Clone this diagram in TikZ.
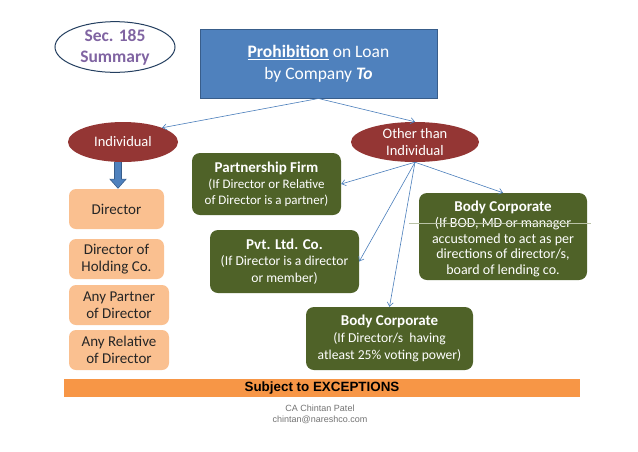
\documentclass[tikz,border=0pt]{standalone}
\usepackage{fontspec}
\setmainfont{Carlito}
\newfontfamily\arialf{Liberation Sans}
\usetikzlibrary{arrows.meta,shapes.geometric}
\definecolor{probblue}{HTML}{4F81BD}
\definecolor{probborder}{HTML}{385D8A}
\definecolor{darkred}{HTML}{943634}
\definecolor{olive}{HTML}{4F6228}
\definecolor{peach}{HTML}{FAC090}
\definecolor{orangebar}{HTML}{F79646}
\definecolor{linkblue}{HTML}{4A7EBB}
\definecolor{secpurple}{HTML}{8064A2}
\definecolor{secborder}{HTML}{243F60}
\definecolor{strikegray}{HTML}{B9C2A6}
\tikzset{
  redell/.style={ellipse, fill=darkred, draw=none, text=white, inner sep=0pt, align=center,
     font=\fontsize{14.5}{17}\selectfont},
  greenbox/.style={rectangle, rounded corners=8pt, fill=olive, draw=none, text=white, inner sep=0pt,
     align=center},
  peachbox/.style={rectangle, rounded corners=7pt, fill=peach, draw=none, text=black!85, inner sep=0pt,
     align=center, font=\fontsize{15}{17.5}\selectfont, minimum height=40pt},
  link/.style={draw=linkblue, line width=0.6pt, -{Straight Barb[length=4pt,width=6pt]}},
}
\newcommand{\hdtext}[1]{{\fontsize{15}{16}\selectfont\bfseries #1}}
\begin{document}
\begin{tikzpicture}[x=1pt,y=-1pt]
\useasboundingbox (0,0) rectangle (638,451);
\fill[white] (0,0) rectangle (638,451);
% Sec 185
\node[ellipse, draw=secborder, line width=1pt, fill=white, minimum width=120pt, minimum height=46pt,
  inner sep=0pt, text=secpurple, align=center, font=\fontsize{17.5}{21}\selectfont\bfseries]
  (sec) at (115,47) {Sec. 185\\Summary};
% Prohibition box
\node[rectangle, fill=probblue, draw=probborder, line width=1pt, minimum width=237pt, minimum height=69pt,
  inner sep=0pt, text=white, align=center, font=\fontsize{17.5}{22}\selectfont]
  (prob) at (318.5,63.5) {\underline{\textbf{Prohibition}} on Loan\\by Company \textbf{\textit{To}}};
% ellipses
\node[redell, minimum width=110pt, minimum height=40pt] (ind) at (123,142) {Individual};
\node[redell, minimum width=128pt, minimum height=40pt] (oti) at (415,142) {Other than\\Individual};
% green boxes
\node[greenbox, minimum width=149pt, minimum height=62pt, font=\fontsize{13}{16}\selectfont] (pf) at (266.5,184)
  {\hdtext{Partnership Firm}\\(If Director or Relative\\of Director is a partner)};
\node[greenbox, minimum width=168pt, minimum height=87pt, font=\fontsize{14}{15.8}\selectfont] (bcr) at (503,236.5)
  {\raisebox{-3.5pt}[\height][\depth]{\begin{tabular}{@{}c@{}}\hdtext{Body Corporate}\\(If BOD, MD or manager\\accustomed to act as per\\directions of director/s,\\board of lending co.\end{tabular}}};
\node[greenbox, minimum width=149pt, minimum height=63pt, font=\fontsize{13.6}{16.5}\selectfont] (pvt) at (284.5,261.5)
  {\hdtext{Pvt. Ltd. Co.}\\(If Director is a director\\or member)};
\node[greenbox, minimum width=167pt, minimum height=63pt, font=\fontsize{13.6}{17}\selectfont] (bcb) at (389.5,338.5)
  {\hdtext{Body Corporate}\\(If Director/s\ \ having\\atleast 25\% voting power)};
\coordinate (strA) at ([xshift=-10pt,yshift=-31pt]bcr.north west);
\coordinate (strB) at ([xshift=4pt,yshift=-31pt]bcr.north east);
\draw[color=strikegray, line width=0.7pt] (strA) -- (strB);
% peach boxes
\node[peachbox, minimum width=95pt] (dir) at (116.5,209) {Director};
\node[peachbox, minimum width=95pt] (hold) at (116.5,259) {Director of\\Holding Co.};
\node[peachbox, minimum width=100pt] (part) at (119,305) {Any Partner\\of Director};
\node[peachbox, minimum width=100pt] (rel) at (119,350) {Any Relative\\of Director};
% exceptions bar
\node[rectangle, fill=orangebar, minimum width=516pt, minimum height=18pt, inner sep=0pt,
  font=\arialf\fontsize{13.4}{14}\selectfont\bfseries, text=black] (exc) at (322,388) {Subject to EXCEPTIONS};
\node[inner sep=0pt, align=center, text=black!55, font=\arialf\fontsize{9}{11}\selectfont] (foot) at (320,414.5)
  {CA Chintan Patel\\chintan@nareshco.com};
% connectors
\draw[link] (prob.south) -- (ind.20);
\draw[link] (prob.south) -- (oti.north);
\draw[link] (oti.south) -- (pf.east);
\draw[link] (oti.south) -- (bcr.north);
\draw[link] (oti.south) -- (pvt.east);
\draw[link] (oti.south) -- (bcb.north);
% block arrow
\coordinate (bastart) at ([xshift=-5pt]ind.south);
\draw[draw=probborder, line width=8pt, -{Triangle[length=10pt,width=17pt]}] (bastart) -- (dir.north -| bastart);
\draw[draw=probblue, line width=6pt, -{Triangle[length=8.5pt,width=14pt]}] (bastart) -- ([yshift=1pt]dir.north -| bastart);
\end{tikzpicture}
\end{document}
